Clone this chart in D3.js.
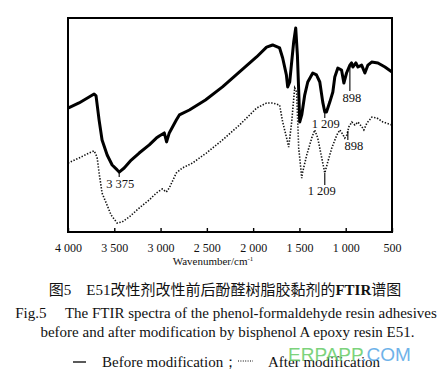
<!DOCTYPE html>
<html>
<head>
<meta charset="utf-8">
<script src="https://cdn.jsdelivr.net/npm/d3@7/dist/d3.min.js"></script>
<style>
html,body{margin:0;padding:0;background:#fff;}
svg{display:block;}
</style>
</head>
<body>
<svg id="chart" width="447" height="379" xmlns="http://www.w3.org/2000/svg"></svg>
<script>
// ---------- data ----------
const xTicks = [4000, 3500, 3000, 2500, 2000, 1500, 1000, 500];
const xTickLabels = ["4 000", "3 500", "3 000", "2 500", "2 000", "1 500", "1 000", "500"];

// Before modification (solid)
const beforeWn = [4000,3881,3772,3718,3697,3664,3632,3577,3523,3469,3447,3393,3317,3231,3122,3046,3014,2960,2935,2906,2830,2797,2689,2515,2331,2147,1963,1855,1790,1714,1681,1641,1627,1605,1587,1562,1540,1522,1505,1497,1475,1443,1410,1356,1316,1280,1248,1226,1208,1172,1139,1118,1085,1045,1020,991,955,937,923,890,868,828,793,760,720,652,576,500];
const beforeT  = [57.9,60.3,63.1,64.5,63.6,52.3,43.0,36.0,31.3,29.0,28.0,29.9,33.6,36.9,40.7,43.9,44.9,46.3,42.1,46.3,52.3,54.7,57.0,61.7,67.8,74.8,81.8,86.4,87.4,86.0,81.3,73.4,67.8,70.1,78.0,88.8,95.3,82.7,62.6,51.4,54.7,64.0,70.1,74.3,73.4,70.1,60.7,56.1,56.1,60.7,65.4,72.4,76.6,75.7,69.6,74.3,78.0,79.0,77.1,79.0,77.1,78.0,74.3,78.0,79.4,79.0,77.1,74.8];

// After modification (dotted)
const afterWn = [4000,3881,3772,3718,3686,3664,3632,3588,3534,3469,3415,3339,3231,3122,3046,2981,2938,2906,2830,2765,2656,2505,2331,2147,1963,1855,1790,1714,1681,1638,1616,1584,1551,1530,1508,1475,1465,1421,1367,1335,1302,1259,1226,1194,1150,1096,1064,1042,1010,988,966,934,901,868,825,804,771,717,663,598,500];
const afterT  = [32.2,34.6,36.9,37.9,35.0,27.6,18.2,13.6,7.9,4.2,4.7,7.0,11.2,15.0,18.2,20.1,18.7,20.6,27.6,29.9,32.2,36.9,43.0,50.0,57.9,60.3,60.3,59.3,51.4,43.9,39.7,51.4,67.3,65.4,39.3,25.2,28.0,36.0,43.9,47.7,43.9,34.6,27.6,32.7,39.3,45.3,47.7,46.3,43.9,45.3,49.1,51.4,50.0,51.4,49.1,47.7,50.9,53.7,53.3,51.4,50.0];

// peak annotations
const annLabels = ["3 375", "1 209", "898", "1 209", "898"];
const annWn     = [3447, 1226, 955, 1226, 977];
const annSeries = ["before", "before", "before", "after", "after"];

const xTitle = "Wavenumber/cm";
const legendLabels = ["Before modification；", "After modification"];
const captionEn1 = "Fig.5\u2003 The FTIR spectra of the phenol-formaldehyde resin adhesives";
const captionEn2 = "before and after modification by bisphenol A epoxy resin E51.";

// ---------- layout ----------
const svg = d3.select("#chart");
const L = 68, R = 392, T = 18, B = 232;
const serif = "'Liberation Serif','Times New Roman',serif";

const x = d3.scaleLinear().domain([4000, 500]).range([L, R]);
const y = d3.scaleLinear().domain([0, 100]).range([B, T]);

// axis ticks & labels
const axis = d3.axisBottom(x).tickValues(xTicks)
  .tickFormat((d, i) => xTickLabels[i]).tickSizeInner(-4).tickSizeOuter(0).tickPadding(11);
const ax = svg.append("g").attr("transform", `translate(0,${B})`).call(axis);
ax.select(".domain").remove();
ax.selectAll(".tick line").attr("stroke", "#000").attr("stroke-width", 1.4);
ax.selectAll(".tick text").attr("font-family", serif).attr("font-size", 12).attr("fill", "#111");

// axis title
const xt = svg.append("text").attr("x", 213).attr("y", 265).attr("text-anchor", "middle")
  .attr("font-family", serif).attr("font-size", 11).attr("fill", "#111");
xt.append("tspan").text(xTitle);
xt.append("tspan").attr("dy", -4).attr("font-size", 7).text("-1");

// curves
const line = d3.line().x(d => x(d[0])).y(d => y(d[1]));
const beforeData = beforeWn.map((w, i) => [w, beforeT[i]]);
const afterData = afterWn.map((w, i) => [w, afterT[i]]);

svg.append("path").datum(afterData).attr("d", line).attr("fill", "none")
  .attr("stroke", "#111").attr("stroke-width", 1.6).attr("stroke-dasharray", "1.4,1.6");
svg.append("path").datum(beforeData).attr("d", line).attr("fill", "none")
  .attr("stroke", "#000").attr("stroke-width", 3).attr("stroke-linejoin", "round");

// annotations
function interp(wnArr, tArr, w) {
  for (let i = 0; i < wnArr.length - 1; i++) {
    if (w <= wnArr[i] && w >= wnArr[i + 1]) {
      const f = (wnArr[i] - w) / (wnArr[i] - wnArr[i + 1]);
      return tArr[i] + f * (tArr[i + 1] - tArr[i]);
    }
  }
  return tArr[tArr.length - 1];
}
const annLen = [5, 6, 26, 12, 9];
const annDx = [1, 1, 2, -3, 6];
annLabels.forEach((lab, i) => {
  const isB = annSeries[i] === "before";
  const yv = isB ? interp(beforeWn, beforeT, annWn[i]) : interp(afterWn, afterT, annWn[i]);
  const px = x(annWn[i]), py = y(yv);
  svg.append("line").attr("x1", px).attr("x2", px).attr("y1", py).attr("y2", py + annLen[i])
    .attr("stroke", "#000").attr("stroke-width", 1.1);
  svg.append("text").attr("x", px + annDx[i]).attr("y", py + annLen[i] + 10.5)
    .attr("text-anchor", "middle").attr("font-family", serif).attr("font-size", 12.5)
    .attr("fill", "#111").text(lab);
});

// Chinese caption
const zh = svg.append("text").attr("x", 225).attr("y", 295).attr("text-anchor", "middle")
  .attr("font-family", "'Liberation Serif','Noto Sans CJK SC',serif").attr("font-size", 15)
  .attr("fill", "#111");
zh.append("tspan").text("图5\u3000");
zh.append("tspan").text("E51");
zh.append("tspan").text("改性剂改性前后酚醛树脂胶黏剂的");
zh.append("tspan").attr("font-weight", "bold").text("FTIR");
zh.append("tspan").text("谱图");

svg.append("text").attr("x", 226).attr("y", 318).attr("text-anchor", "middle")
  .attr("font-family", serif).attr("font-size", 15).attr("fill", "#111").text(captionEn1);
svg.append("text").attr("x", 227.5).attr("y", 337).attr("text-anchor", "middle")
  .attr("font-family", serif).attr("font-size", 15).attr("fill", "#111").text(captionEn2);

// legend
svg.append("line").attr("x1", 73).attr("x2", 86).attr("y1", 362).attr("y2", 362)
  .attr("stroke", "#000").attr("stroke-width", 1.3);
svg.append("text").attr("x", 102).attr("y", 367).attr("font-family", serif)
  .attr("font-size", 15).attr("fill", "#111").text(legendLabels[0]);
svg.append("line").attr("x1", 238).attr("x2", 253).attr("y1", 361).attr("y2", 361)
  .attr("stroke", "#000").attr("stroke-width", 1).attr("stroke-dasharray", "1,1.4");
svg.append("text").attr("x", 268).attr("y", 367).attr("font-family", serif)
  .attr("font-size", 15).attr("fill", "#111").text(legendLabels[1]);

// watermark
const wm = svg.append("text").attr("x", 288).attr("y", 361)
  .attr("font-family", "'Liberation Sans',Arial,sans-serif").attr("font-size", 19)
  .attr("opacity", 0.85);
wm.append("tspan").attr("fill", "#66cc66").text("ERPAPP");
wm.append("tspan").attr("fill", "#55a6e6").text(".COM");

// frame, drawn last on top
svg.append("rect").attr("x", L).attr("y", T).attr("width", R - L).attr("height", B - T)
  .style("fill", "none").style("stroke", "#000").style("stroke-width", "2px");
</script>
</body>
</html>
